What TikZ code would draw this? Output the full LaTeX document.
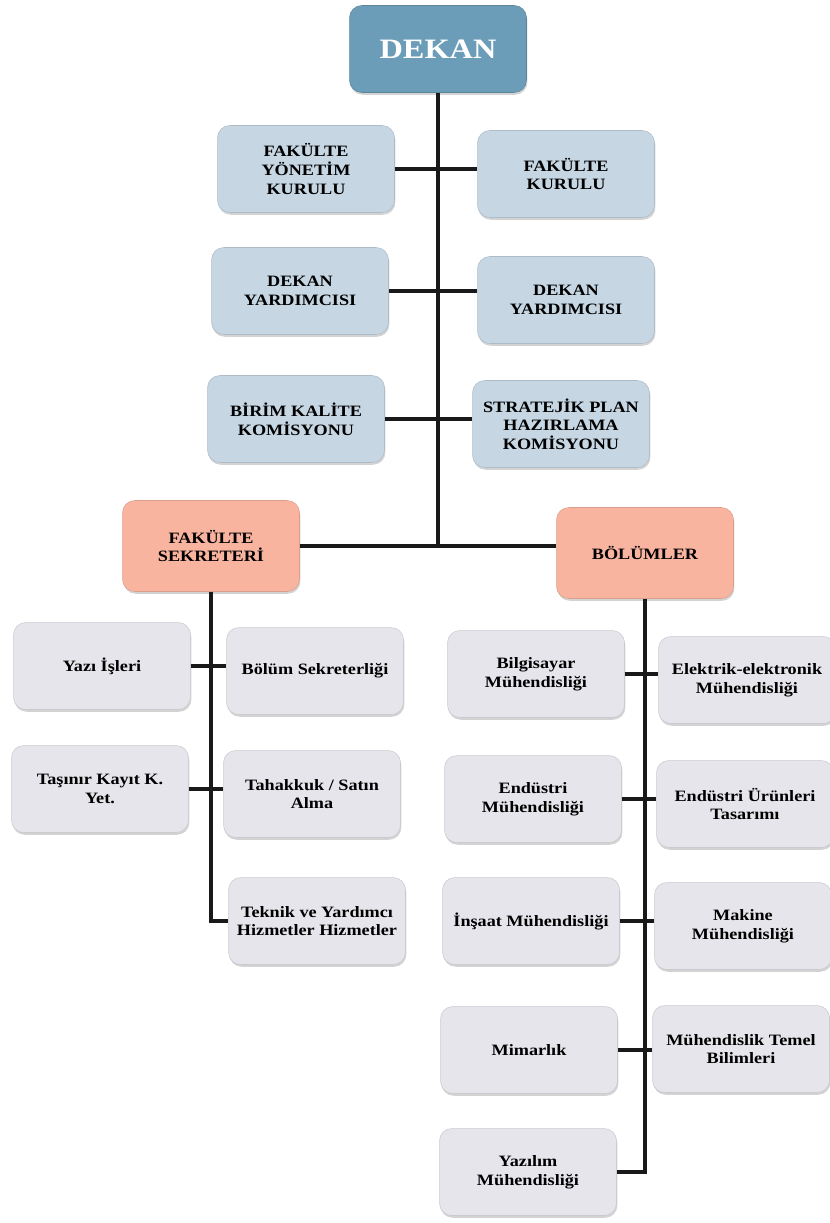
\documentclass[tikz,border=0pt]{standalone}
\usepackage{fontspec}
\setmainfont{Liberation Serif}[FakeStretch=1.15]
\usetikzlibrary{shadows}
\definecolor{dekanblue}{RGB}{108,157,184}
\definecolor{kurulblue}{RGB}{198,214,227}
\definecolor{salmon}{RGB}{249,180,160}
\definecolor{unitgrey}{RGB}{229,229,235}
\begin{document}
\begin{tikzpicture}[x=0.02cm,y=-0.02cm,
    box/.style={rectangle,rounded corners=7pt,minimum width=3.54cm,minimum height=1.74cm,
      inner sep=2pt,align=center,font=\fontsize{9}{10.6}\selectfont\bfseries,
      drop shadow={shadow xshift=0.5pt,shadow yshift=-1.3pt,opacity=0.35}},
    dekanbox/.style={box,fill=dekanblue,draw=dekanblue!85!black,line width=0.3pt,
      text=white,font=\fontsize{16}{18}\selectfont\bfseries},
    kurulbox/.style={box,fill=kurulblue,draw=kurulblue!88!black,line width=0.3pt},
    mainbox/.style={box,fill=salmon,draw=salmon!88!black,line width=0.3pt,minimum height=1.82cm},
    unitbox/.style={box,fill=unitgrey,draw=unitgrey!88!black,line width=0.3pt}]
      \useasboundingbox (0,0) rectangle (830,1223);
      \draw
        (438,49) node[dekanbox] (dekan){DEKAN}
        (306,169) node[kurulbox] (fyk){FAKÜLTE\\YÖNETİM\\KURULU}
        (566,174) node[kurulbox] (fk){FAKÜLTE\\KURULU}
        (300,291) node[kurulbox] (dy1){DEKAN\\YARDIMCISI}
        (566,300) node[kurulbox] (dy2){DEKAN\\YARDIMCISI}
        (296,419) node[kurulbox] (bkk){BİRİM KALİTE\\KOMİSYONU}
        (561,424) node[kurulbox] (spk){STRATEJİK PLAN\\HAZIRLAMA\\KOMİSYONU}
        (211,546) node[mainbox] (sekreter){FAKÜLTE\\SEKRETERİ}
        (645,553) node[mainbox] (bolumler){BÖLÜMLER}
        (102,666) node[unitbox] (yazi){Yazı İşleri}
        (315,671) node[unitbox] (bolsek){Bölüm Sekreterliği}
        (100,789) node[unitbox] (tasinir){Taşınır Kayıt K.\\Yet.}
        (312,794) node[unitbox] (tahakkuk){Tahakkuk / Satın\\Alma}
        (317,921) node[unitbox] (teknik){Teknik ve Yardımcı\\Hizmetler Hizmetler}
        (536,674) node[unitbox] (bilg){Bilgisayar\\Mühendisliği}
        (747,680) node[unitbox] (elek){Elektrik-elektronik\\Mühendisliği}
        (533,799) node[unitbox] (endustri){Endüstri\\Mühendisliği}
        (745,804) node[unitbox] (eut){Endüstri Ürünleri\\Tasarımı}
        (531,921) node[unitbox] (insaat){İnşaat Mühendisliği}
        (743,926) node[unitbox] (makine){Makine\\Mühendisliği}
        (529,1050) node[unitbox] (mimarlik){Mimarlık}
        (741,1049) node[unitbox] (mtb){Mühendislik Temel\\Bilimleri}
        (528,1172) node[unitbox] (yazilim){Yazılım\\Mühendisliği};
      \begin{scope}[line width=2.6pt,black!90]
        \draw (dekan.south) -- (dekan.south |- sekreter.east);
        \draw (fyk.east) -- (fyk.east -| fk.west);
        \draw (dy1.east) -- (dy1.east -| dy2.west);
        \draw (bkk.east) -- (bkk.east -| spk.west);
        \draw (sekreter.east) -- (sekreter.east -| bolumler.west);
        \draw (sekreter.south) |- (teknik.west);
        \draw (yazi.east) -- (yazi.east -| bolsek.west);
        \draw (tasinir.east) -- (tasinir.east -| tahakkuk.west);
        \draw (bolumler.south) |- (yazilim.east);
        \draw (bilg.east) -- (bilg.east -| elek.west);
        \draw (endustri.east) -- (endustri.east -| eut.west);
        \draw (insaat.east) -- (insaat.east -| makine.west);
        \draw (mimarlik.east) -- (mimarlik.east -| mtb.west);
      \end{scope}
    \end{tikzpicture}
\end{document}
